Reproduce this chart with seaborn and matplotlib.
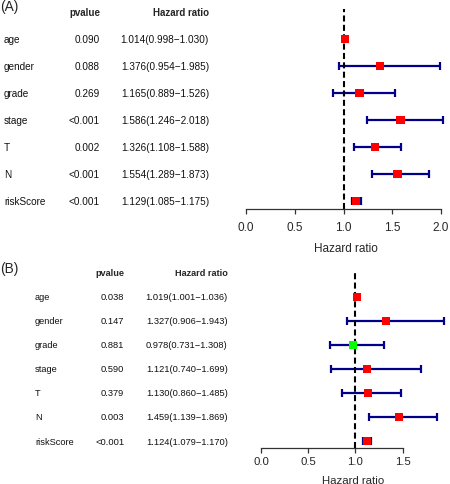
import numpy as np
import pandas as pd
import matplotlib
matplotlib.use('Agg')
import matplotlib.pyplot as plt
import matplotlib.transforms as mtransforms
import seaborn as sns

variables = ['age', 'gender', 'grade', 'stage', 'T', 'N', 'riskScore']

# (A) univariate
pval_a = ['0.090', '0.088', '0.269', '<0.001', '0.002', '<0.001', '<0.001']
hr_a = [1.014, 1.376, 1.165, 1.586, 1.326, 1.554, 1.129]
low_a = [0.998, 0.954, 0.889, 1.246, 1.108, 1.289, 1.085]
high_a = [1.030, 1.985, 1.526, 2.018, 1.588, 1.873, 1.175]

# (B) multivariate
pval_b = ['0.038', '0.147', '0.881', '0.590', '0.379', '0.003', '<0.001']
hr_b = [1.019, 1.327, 0.978, 1.121, 1.130, 1.459, 1.124]
low_b = [1.001, 0.906, 0.731, 0.740, 0.860, 1.139, 1.079]
high_b = [1.036, 1.943, 1.308, 1.699, 1.485, 1.869, 1.170]

sns.set_style('white')
plt.rcParams['font.family'] = ['Liberation Sans', 'DejaVu Sans']

W, H = 450, 485
fig = plt.figure(figsize=(W / 100, H / 100), dpi=100)


def px_axes(left, top, right, bottom):
    return fig.add_axes([left / W, 1 - bottom / H, (right - left) / W, (bottom - top) / H])


def forest(ax, hr, low, high, pval, xmax, axis_max, ylim, name_x, p_x, hr_x, head_y,
           fs, head_fs, tick_fs, tick_pad):
    df = pd.DataFrame({'var': variables, 'row': range(len(variables)),
                       'hr': hr, 'low': low, 'high': high, 'p': pval})
    df['dir'] = np.where(df['hr'] > 1, 'up', 'down')

    # CI bars, reference line, then the boxes on top
    ax.errorbar(df['hr'], df['row'], xerr=[df['hr'] - df['low'], df['high'] - df['hr']],
                fmt='none', ecolor='#00008B', elinewidth=1.6, capsize=2.9, capthick=1.6, zorder=1)
    ax.axvline(1, color='black', ls=(0, (2.9, 1.6)), lw=1.5, zorder=2)
    sns.scatterplot(data=df, x='hr', y='row', hue='dir',
                    palette={'up': '#FF0000', 'down': '#00FF00'},
                    marker='s', s=36, linewidth=0, legend=False, ax=ax, zorder=3)

    ax.set_xlim(0, xmax)
    ax.set_ylim(*ylim)
    ax.set_yticks([])
    ax.set_ylabel('')
    ax.set_xticks(np.arange(0, axis_max + 0.01, 0.5))
    ax.xaxis.set_major_formatter(lambda s, i: f'{s:.1f}')
    ax.tick_params(axis='x', bottom=True, length=3.8, width=0.9, color='#333333',
                   labelsize=tick_fs, pad=tick_pad)
    ax.set_xlabel('Hazard ratio', fontsize=tick_fs, labelpad=6)
    ax.spines[['top', 'left', 'right']].set_visible(False)
    ax.spines['bottom'].set_bounds(0, axis_max)
    ax.spines['bottom'].set_color('#333333')
    ax.spines['bottom'].set_linewidth(0.9)

    # table on the left
    trans = mtransforms.blended_transform_factory(fig.transFigure, ax.transData)
    for _, r in df.iterrows():
        ax.text(name_x / W, r['row'], r['var'], transform=trans, ha='left', va='center', fontsize=fs, color='#111111')
        ax.text(p_x / W, r['row'], r['p'], transform=trans, ha='right', va='center', fontsize=fs, color='#111111')
        ax.text(hr_x / W, r['row'], f"{r['hr']:.3f}({r['low']:.3f}\u2212{r['high']:.3f})",
                transform=trans, ha='right', va='center', fontsize=fs, color='#111111')
    fig.text(p_x / W, 1 - head_y / H, 'pvalue', ha='right', va='center', fontsize=head_fs, weight='bold')
    fig.text(hr_x / W, 1 - head_y / H, 'Hazard ratio', ha='right', va='center', fontsize=head_fs, weight='bold')


# region << Panel A >>
ax_a = px_axes(246, 10, 446, 210)
forest(ax_a, hr_a, low_a, high_a, pval_a, xmax=200 / 97.5, axis_max=2.0,
       ylim=(6.284, -1.096), name_x=4, p_x=100, hr_x=209, head_y=13.5,
       fs=7.2, head_fs=7.0, tick_fs=8.5, tick_pad=5.0)
fig.text(0, 1 - 7 / H, '(A)', ha='left', va='center', fontsize=9.9)
# endregion

# region << Panel B >>
ax_b = px_axes(261, 271.7, 446, 449)
forest(ax_b, hr_b, low_b, high_b, pval_b, xmax=185 / 94.4, axis_max=1.5,
       ylim=(6.29, -1.081), name_x=35, p_x=124.3, hr_x=227.7, head_y=274,
       fs=6.7, head_fs=6.6, tick_fs=8.2, tick_pad=2.3)
fig.text(0, 1 - 269 / H, '(B)', ha='left', va='center', fontsize=9.9)
# endregion

fig.savefig('out.png', dpi=100)
